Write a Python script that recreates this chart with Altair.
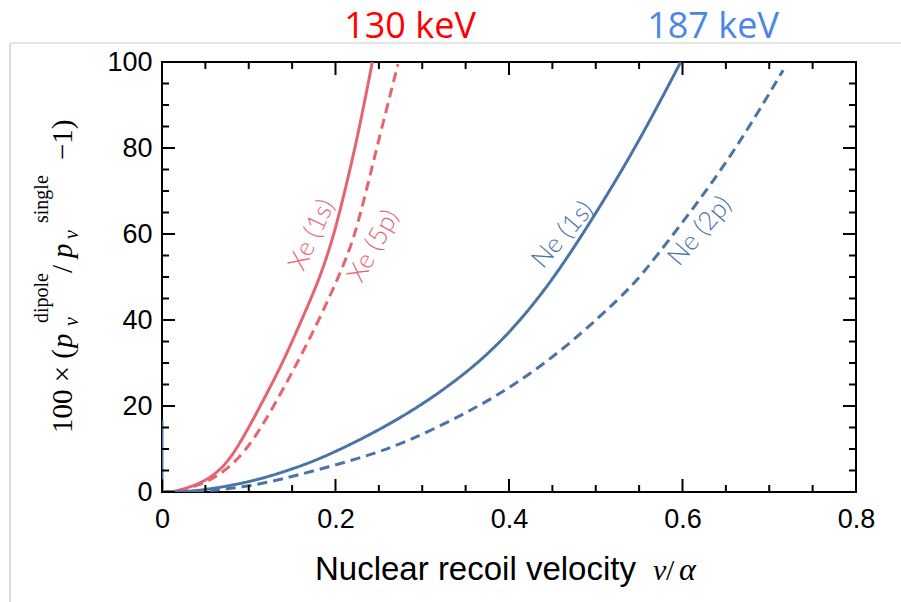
import altair as alt
import pandas as pd

# ---- curve data: relative change (%) vs nuclear recoil velocity v/alpha ----
xe1s_v = [0.0, 0.01, 0.02, 0.045, 0.067, 0.086, 0.112, 0.138, 0.161, 0.1825, 0.1985, 0.2108, 0.2225, 0.2328, 0.2425]
xe1s_y = [0.0, 0.0, 0.4, 2.0, 4.9, 9.8, 19.5, 29.5, 40.0, 50.0, 60.0, 70.0, 80.0, 90.0, 100.0]

xe5p_v = [0.0, 0.01, 0.02, 0.05, 0.0745, 0.101, 0.129, 0.156, 0.181, 0.2035, 0.2135, 0.2225, 0.2355, 0.2475, 0.272]
xe5p_y = [0.0, 0.0, 0.3, 2.0, 5.1, 10.5, 20.0, 30.0, 40.0, 50.0, 55.0, 60.0, 70.0, 80.0, 99.5]

ne1s_v = [0.0, 0.02, 0.047, 0.1, 0.151, 0.198, 0.28, 0.351, 0.401, 0.451, 0.505, 0.551, 0.598]
ne1s_y = [0.0, 0.0, 0.4, 2.2, 5.3, 9.0, 17.5, 27.5, 36.9, 49.3, 66.3, 81.9, 100.0]

ne2p_v = [0.0, 0.03, 0.05, 0.1, 0.151, 0.228, 0.28, 0.351, 0.405, 0.459, 0.505, 0.543, 0.566, 0.628, 0.674, 0.716]
ne2p_y = [0.0, 0.0, 0.2, 1.2, 3.6, 7.8, 11.4, 18.3, 24.7, 32.6, 40.8, 48.1, 53.8, 70.0, 83.8, 98.1]

# short vertical jumps at v = 0 (Xe 1s and Ne 1s)
jump_series = ["Xe (1s)", "Xe (1s)", "Ne (1s)", "Ne (1s)"]
jump_v = [0.0, 0.0, 0.0, 0.0]
jump_y = [0.0, 2.8, 0.0, 16.7]

series = ["Xe (1s)", "Xe (5p)", "Ne (1s)", "Ne (2p)"]
series_v = [xe1s_v, xe5p_v, ne1s_v, ne2p_v]
series_y = [xe1s_y, xe5p_y, ne1s_y, ne2p_y]

# in-plot curve labels: anchor (v, value) and rotation
label_v = [0.173, 0.244, 0.462, 0.620]
label_y = [59.8, 57.2, 59.8, 60.7]
label_angle = [295, 299, 311, 311]

# axis ticks
x_major = [0.0, 0.2, 0.4, 0.6, 0.8]
x_minor = [0.05, 0.1, 0.15, 0.25, 0.3, 0.35, 0.45, 0.5, 0.55, 0.65, 0.7, 0.75]
y_major = [0, 20, 40, 60, 80, 100]
y_minor = [5, 10, 15, 25, 30, 35, 45, 50, 55, 65, 70, 75, 85, 90, 95]

RED = "#E5646F"
BLUE = "#4A74A8"
colors = [RED, RED, BLUE, BLUE]
dashes = [[1, 0], [10, 6], [1, 0], [10, 6]]

W, H = 694, 430
MAJ, MIN = 13, 7

rows = []
for name, vs, ys in zip(series, series_v, series_y):
    for i, (v, y) in enumerate(zip(vs, ys)):
        rows.append({"series": name, "v": v, "val": y, "i": i})
df = pd.DataFrame(rows)
jumps = pd.DataFrame({"series": jump_series, "v": jump_v, "val": jump_y})

xscale = alt.Scale(domain=[0, 0.8], nice=False, zero=False)
yscale = alt.Scale(domain=[0, 100], nice=False, zero=False)

x_axis = alt.Axis(
    values=x_major, labelExpr="datum.value == 0 ? '0' : format(datum.value, '.1f')",
    grid=False, domain=False, ticks=False, tickSize=0, labelFontSize=27,
    labelFont="Liberation Sans", labelColor="black", labelPadding=14,
    labelFlush=False, labelOverlap=False, title=None)
y_axis = alt.Axis(
    values=y_major, format="d", grid=False, domain=False, ticks=False, tickSize=0,
    labelFontSize=27, labelFont="Liberation Sans", labelColor="black",
    labelPadding=10, labelFlush=False, labelOverlap=False, title=None)


def X():
    return alt.X("v:Q", scale=xscale, axis=x_axis)


def Y():
    return alt.Y("val:Q", scale=yscale, axis=y_axis)


color_enc = alt.Color("series:N", scale=alt.Scale(domain=series, range=colors), legend=None)

lines = alt.Chart(df).mark_line(strokeWidth=3, interpolate="basis", clip=True).encode(
    x=X(), y=Y(), color=color_enc, order="i:Q",
    strokeDash=alt.StrokeDash("series:N", scale=alt.Scale(domain=series, range=dashes), legend=None),
)

jump_lines = alt.Chart(jumps).mark_line(strokeWidth=3, clip=True).encode(
    x=X(), y=Y(), color=color_enc, detail="series:N", order="val:Q",
)


def xticks(values, length):
    d = pd.DataFrame({"v": values})
    bottom = alt.Chart(d).mark_rule(color="black", strokeWidth=2).encode(
        x=X(), y=alt.value(H), y2=alt.value(H - length))
    top = alt.Chart(d).mark_rule(color="black", strokeWidth=2).encode(
        x=X(), y=alt.value(0), y2=alt.value(length))
    return [bottom, top]


def yticks(values, length):
    d = pd.DataFrame({"val": values})
    left = alt.Chart(d).mark_rule(color="black", strokeWidth=2).encode(
        y=Y(), x=alt.value(0), x2=alt.value(length))
    right = alt.Chart(d).mark_rule(color="black", strokeWidth=2).encode(
        y=Y(), x=alt.value(W), x2=alt.value(W - length))
    return [left, right]


ticks = xticks(x_major, MAJ) + xticks(x_minor, MIN) + yticks(y_major, MAJ) + yticks(y_minor, MIN)

curve_labels = alt.Chart(pd.DataFrame({
    "series": series, "v": label_v, "val": label_y, "angle": label_angle, "color": colors,
})).mark_text(font="Lato", fontWeight=300, fontSize=26, align="center", baseline="middle").encode(
    x=X(), y=Y(),
    text="series:N",
    angle=alt.Angle("angle:Q", scale=None),
    color=alt.Color("color:N", scale=None),
)


def txt(text, x, y, size, font="Liberation Serif", style="normal", angle=0,
        align="left", baseline="alphabetic", color="black", weight="normal"):
    return alt.Chart(pd.DataFrame({"t": [text]})).mark_text(
        font=font, fontSize=size, fontStyle=style, angle=angle, align=align,
        baseline=baseline, color=color, fontWeight=weight,
    ).encode(x=alt.value(x), y=alt.value(y), text="t:N")


# energy headings above the frame
headings = [
    txt("130 keV", 248, -24, 36, font="Open Sans", align="center", color="#FF0000"),
    txt("187 keV", 551, -24, 36, font="Open Sans", align="center", color="#4A86E8"),
]

# x-axis title: sans text followed by italic v/alpha
xtitle = [
    txt("Nuclear recoil velocity", 153, 518, 33, font="Liberation Sans"),
    txt("v", 491, 518, 30, style="italic"),
    txt("/", 504, 518, 30),
    txt("α", 517, 518, 32, style="italic"),
]

# y-axis title: 100 x (p_v^dipole / p_v^single - 1), rotated
BASE, SUB, SUP = -90, -84, -114
ytitle = [
    txt("100 × (", BASE, 371, 29, angle=270),
    txt("p", BASE, 286, 29, style="italic", angle=270),
    txt("v", SUB, 264, 20, style="italic", angle=270),
    txt("dipole", SUP, 261, 20, angle=270),
    txt("/", BASE, 211, 29, angle=270),
    txt("p", BASE, 196, 29, style="italic", angle=270),
    txt("v", SUB, 177, 20, style="italic", angle=270),
    txt("single", SUP, 161, 20, angle=270),
    txt("−1)", BASE, 98, 29, angle=270),
]

# light page edge on the left and top
one = pd.DataFrame({"k": [0]})
edges = [
    alt.Chart(one).mark_rule(color="#DADADA", strokeWidth=2).encode(
        x=alt.value(-152), y=alt.value(-19), y2=alt.value(540)),
    alt.Chart(one).mark_rule(color="#E6E6E6", strokeWidth=2).encode(
        x=alt.value(-152), x2=alt.value(739), y=alt.value(-19)),
]

chart = alt.layer(
    *edges, lines, jump_lines, *ticks, curve_labels, *headings, *xtitle, *ytitle
).properties(
    width=W, height=H,
    padding={"left": 162, "top": 62, "right": 45, "bottom": 110},
    autosize=alt.AutoSizeParams(type="none"),
    background="white",
).configure_view(stroke="black", strokeWidth=2)

chart.save("out.html", embed_options={"renderer": "svg", "actions": False})
